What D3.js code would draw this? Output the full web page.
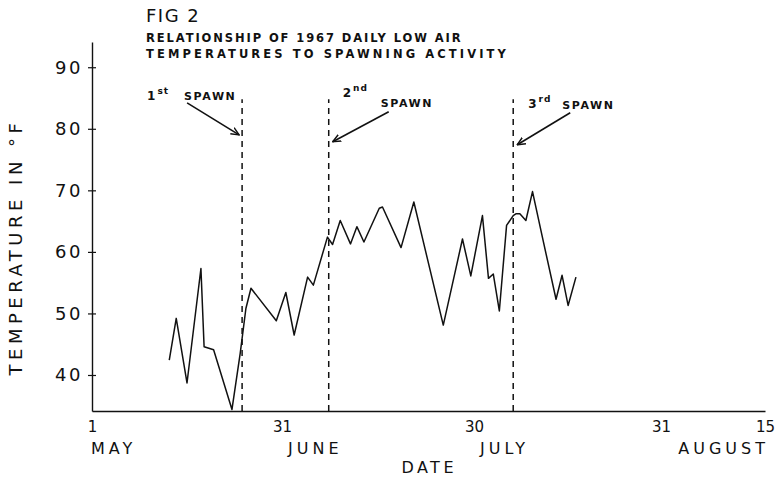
<!DOCTYPE html>
<html>
<head>
<meta charset="utf-8">
<script src="https://cdn.jsdelivr.net/npm/d3@7"></script>
<style>
  html, body { margin: 0; padding: 0; background: #fff; }
  svg { display: block; }
  text { font-family: "DejaVu Sans", sans-serif; fill: #111; }
</style>
</head>
<body>
<svg id="chart" width="779" height="479"></svg>
<script>
// ---- data (days counted from 1 May 1967) ----
const days  = [12.2, 13.3, 15.0, 17.2, 17.7, 19.2, 22.1, 23.4, 24.3, 25.1, 29.1, 30.6, 31.9, 34.0, 34.9,
               37.1, 37.9, 39.1, 40.7, 41.7, 42.8, 45.2, 45.7, 48.6, 50.6, 55.2, 58.2, 59.5, 61.4, 62.4,
               63.2, 64.2, 65.4, 66.5, 67.0, 67.6, 68.6, 69.7, 71.2, 73.6, 74.6, 75.6, 76.9];
const temps = [42.4, 49.2, 38.7, 57.3, 44.6, 44.1, 34.4, 43.5, 50.8, 54.1, 48.8, 53.4, 46.5, 55.9, 54.6,
               62.4, 61.2, 65.1, 61.3, 64.1, 61.6, 67.1, 67.3, 60.7, 68.1, 48.1, 62.1, 56.1, 65.9, 55.7,
               56.4, 50.4, 64.3, 65.9, 66.2, 66.2, 65.1, 69.8, 63.0, 52.3, 56.2, 51.3, 55.9];

const spawnDays    = [23.7, 37.3, 66.5];
const spawnOrdinal = ["1", "2", "3"];
const spawnSuffix  = ["st", "nd", "rd"];
const spawnArrowTip = [79.0, 77.9, 77.4];   // temperature where each arrow points

const xTickDays   = [0, 30, 60, 91, 106];
const xTickLabels = ["1", "31", "30", "31", "15"];
const monthNames  = ["MAY", "JUNE", "JULY", "AUGUST"];
const monthDays   = [0, 30, 60, 106];
const yTicks      = [40, 50, 60, 70, 80, 90];

const titleLines = ["FIG 2", "RELATIONSHIP OF 1967 DAILY LOW AIR", "TEMPERATURES TO SPAWNING ACTIVITY"];

// ---- scales ----
const svg = d3.select("#chart");
const x = d3.scaleLinear().domain([0, 30, 60, 91, 106]).range([92, 282, 474, 661, 765]);
const y = d3.scaleLinear().domain([34.15, 94.1]).range([411, 42]);

const ink = "#111";

// ---- y axis ----
const yAxis = d3.axisLeft(y).tickValues(yTicks).tickSizeInner(4).tickSizeOuter(0).tickPadding(5);
const gy = svg.append("g").attr("transform", `translate(${x(0)},0)`).call(yAxis);
gy.select(".domain").attr("stroke", ink).attr("stroke-width", 1.4);
gy.selectAll(".tick line").attr("stroke", ink).attr("stroke-width", 1.2).attr("x1", 4);
gy.selectAll(".tick text")
  .attr("font-size", 18).attr("letter-spacing", 2.5).attr("fill", ink)
  .style("font-family", "DejaVu Sans, sans-serif");

// ---- x axis ----
const xAxis = d3.axisBottom(x).tickValues(xTickDays).tickSize(0).tickPadding(10)
  .tickFormat((d, i) => xTickLabels[i]);
const gx = svg.append("g").attr("transform", `translate(0,${y(34.15)})`).call(xAxis);
gx.select(".domain").attr("stroke", ink).attr("stroke-width", 1.4);
gx.selectAll(".tick text")
  .attr("font-size", 15).attr("fill", ink)
  .style("font-family", "DejaVu Sans, sans-serif");

// month names
svg.append("g").selectAll("text").data(monthNames).join("text")
  .attr("x", (d, i) => i === 3 ? x(monthDays[i]) + 4 : x(monthDays[i]) + (i === 0 ? -1 : 6))
  .attr("y", 454)
  .attr("text-anchor", (d, i) => i === 3 ? "end" : "start")
  .attr("font-size", 16).attr("letter-spacing", 4)
  .text(d => d);

// axis titles
svg.append("text").attr("x", x(53)).attr("y", 473).attr("text-anchor", "middle")
  .attr("font-size", 16).attr("letter-spacing", 3.5).text("DATE");
svg.append("text")
  .attr("transform", `translate(22,247) rotate(-90)`)
  .attr("text-anchor", "middle").attr("font-size", 18).attr("letter-spacing", 4.5)
  .text("TEMPERATURE IN °F");

// title
svg.append("text").attr("x", 146).attr("y", 22).attr("font-size", 18).attr("letter-spacing", 1.5)
  .text(titleLines[0]);
svg.append("g").selectAll("text").data(titleLines.slice(1)).join("text")
  .attr("x", 146).attr("y", (d, i) => 42 + i * 16)
  .attr("font-size", 11.5).attr("font-weight", "bold")
  .attr("letter-spacing", (d, i) => i === 0 ? 1.9 : 3.1)
  .text(d => d);

// ---- spawn lines ----
svg.append("g").selectAll("line").data(spawnDays).join("line")
  .attr("x1", d => x(d)).attr("x2", d => x(d))
  .attr("y1", y(34.15)).attr("y2", y(84.8))
  .attr("stroke", ink).attr("stroke-width", 1.5).attr("stroke-dasharray", "6,5");

// arrows
const arrowDX = [-52, 56, 53];
const arrowDY = [-32, -30, -32];
const defs = svg.append("defs");
defs.append("marker").attr("id", "ah").attr("viewBox", "0 0 10 10").attr("refX", 9).attr("refY", 5)
  .attr("markerWidth", 9).attr("markerHeight", 9).attr("markerUnits", "userSpaceOnUse")
  .attr("orient", "auto")
  .append("path").attr("d", "M0,1 L9,5 L0,9").attr("fill", "none").attr("stroke", ink).attr("stroke-width", 1.6);

svg.append("g").selectAll("line").data(spawnDays).join("line")
  .attr("x1", (d, i) => x(d) + (i === 0 ? -3 : 4) + arrowDX[i])
  .attr("y1", (d, i) => y(spawnArrowTip[i]) + arrowDY[i])
  .attr("x2", (d, i) => x(d) + (i === 0 ? -3 : 4))
  .attr("y2", (d, i) => y(spawnArrowTip[i]))
  .attr("stroke", ink).attr("stroke-width", 1.6).attr("marker-end", "url(#ah)");

// spawn labels
const labOrdDX  = [-95, 14, 15];
const labOrdY   = [100, 97, 108];
const labSpDX   = [-58, 52, 49];
const labSpY    = [100, 107, 109];
const lg = svg.append("g");
spawnDays.forEach((d, i) => {
  const t = lg.append("text").attr("x", x(d) + labOrdDX[i]).attr("y", labOrdY[i])
    .attr("font-size", 12).attr("font-weight", "bold");
  t.append("tspan").text(spawnOrdinal[i]);
  t.append("tspan").attr("dy", -6).attr("font-size", 9).attr("dx", 2).attr("letter-spacing", 1).text(spawnSuffix[i]);
  lg.append("text").attr("x", x(d) + labSpDX[i]).attr("y", labSpY[i])
    .attr("font-size", 11).attr("font-weight", "bold").attr("letter-spacing", 1.6)
    .text("SPAWN");
});

// ---- temperature line ----
const pts = days.map((d, i) => [d, temps[i]]);
svg.append("path").datum(pts)
  .attr("fill", "none").attr("stroke", ink).attr("stroke-width", 1.5).attr("stroke-linejoin", "round")
  .attr("d", d3.line().x(d => x(d[0])).y(d => y(d[1])));
</script>
</body>
</html>
